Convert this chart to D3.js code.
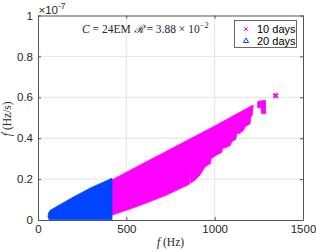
<!DOCTYPE html>
<html>
<head>
<meta charset="utf-8">
<script src="https://cdn.jsdelivr.net/npm/d3@7"></script>
<style>
  body { margin: 0; background: #fff; }
  svg { display: block; }
</style>
</head>
<body>
<svg id="chart" width="316" height="252"></svg>
<script>
// values (y in units of 1e-7 Hz/s)
const xTicks = [0, 500, 1000, 1500];
const yTicks = [0, 0.2, 0.4, 0.6, 0.8, 1];
const seriesNames = ["10 days", "20 days"];

// 10 days: outer edges of the marker cloud
const days10Upper = [[419, 0.196], [600, 0.279], [800, 0.369], [1000, 0.46], [1218, 0.562]];
const days10Lower = [[419, 0.024], [538, 0.059], [634, 0.09], [728, 0.122], [821, 0.16], [858, 0.176],
  [861, 0.27], [865, 0.18], [888, 0.196], [917, 0.22], [945, 0.26], [975, 0.275], [980, 0.3],
  [1011, 0.318], [1040, 0.33], [1045, 0.352], [1058, 0.352], [1090, 0.365], [1096, 0.383],
  [1120, 0.395], [1125, 0.424], [1143, 0.424], [1165, 0.44], [1171, 0.456], [1200, 0.47],
  [1205, 0.505], [1212, 0.51], [1218, 0.562]];
const days10ClusterUpper = [[1243, 0.578], [1262, 0.582], [1288, 0.585]];
const days10ClusterLower = [[1243, 0.55], [1262, 0.55], [1266, 0.52], [1288, 0.52]];
const days10Outlier = [[1345, 0.608]];

// 20 days
const days20Upper = [[57, 0.02], [60, 0.035], [70, 0.048], [200, 0.112], [300, 0.158], [419, 0.204]];
const days20Lower = [[57, 0.014], [63, 0.002], [419, 0.002]];

const magenta = "#ff00ff", blue = "#0044ff";
const axisCol = "#555", textCol = "#262626";

const svg = d3.select("#chart");
const mLeft = 38, mRight = 303, mTop = 15.5, mBottom = 220;

const x = d3.scaleLinear().domain([0, 1500]).range([mLeft, mRight]);
const y = d3.scaleLinear().domain([0, 1]).range([mBottom, mTop]);

// grid
svg.append("g").selectAll("line").data(xTicks.slice(1, -1)).join("line")
  .attr("x1", d => x(d)).attr("x2", d => x(d)).attr("y1", mTop).attr("y2", mBottom)
  .attr("stroke", "#e3e3e3").attr("stroke-width", 1);
svg.append("g").selectAll("line").data(yTicks.slice(1, -1)).join("line")
  .attr("y1", d => y(d)).attr("y2", d => y(d)).attr("x1", mLeft).attr("x2", mRight)
  .attr("stroke", "#e3e3e3").attr("stroke-width", 1);

// clouds
const line = d3.line().x(d => x(d[0])).y(d => y(d[1]));
function cloud(upper, lower, col) {
  svg.append("path")
    .attr("d", line(upper.concat(lower.slice().reverse())) + "Z")
    .attr("fill", col).attr("stroke", col).attr("stroke-width", 0.8)
    .attr("stroke-linejoin", "round");
}
cloud(days10Upper, days10Lower, magenta);
cloud(days10ClusterUpper, days10ClusterLower, magenta);
cloud(days20Upper, days20Lower, blue);

const cross = d3.symbol().type(d3.symbolTimes).size(14);
svg.append("g").selectAll("path").data(days10Outlier).join("path")
  .attr("transform", d => `translate(${x(d[0])},${y(d[1])})`)
  .attr("d", cross).attr("fill", "none").attr("stroke", magenta).attr("stroke-width", 2);

// axes (inward ticks, box)
const xAxis = d3.axisBottom(x).tickValues(xTicks).tickFormat(d3.format("d"))
  .tickSizeInner(-3).tickSizeOuter(0).tickPadding(5);
const yAxis = d3.axisLeft(y).tickValues(yTicks).tickFormat(d3.format("~g"))
  .tickSizeInner(-3).tickSizeOuter(0).tickPadding(5);
svg.append("g").attr("transform", `translate(0,${mBottom})`).call(xAxis);
svg.append("g").attr("transform", `translate(${mLeft},0)`).call(yAxis);
svg.append("g").attr("transform", `translate(0,${mTop})`)
  .call(d3.axisTop(x).tickValues(xTicks).tickSizeInner(-3).tickSizeOuter(0).tickFormat(""));
svg.append("g").attr("transform", `translate(${mRight},0)`)
  .call(d3.axisRight(y).tickValues(yTicks).tickSizeInner(-3).tickSizeOuter(0).tickFormat(""));
svg.selectAll(".domain, .tick line").attr("stroke", axisCol);
svg.selectAll(".tick text").attr("fill", textCol)
  .style("font-family", "'Liberation Sans', Arial, sans-serif").style("font-size", "11.5px");

// x10^-7
const mult = svg.append("text").attr("x", 38.5).attr("y", 13.5)
  .attr("fill", textCol).style("font-family", "'Liberation Sans', Arial, sans-serif").style("font-size", "11.5px");
mult.append("tspan").text("\u00d710");
mult.append("tspan").attr("dy", -5).style("font-size", "8.5px").text("-7");

// axis labels
const serif = "'Liberation Serif', 'DejaVu Serif', serif";
const xl = svg.append("text").attr("x", (mLeft + mRight) / 2).attr("y", 246)
  .attr("text-anchor", "middle").attr("fill", textCol).style("font-family", serif).style("font-size", "11.5px");
xl.append("tspan").style("font-style", "italic").text("f");
xl.append("tspan").text(" (Hz)");

const yl = svg.append("text")
  .attr("transform", `translate(11,${(mTop + mBottom) / 2 + 1}) rotate(-90)`)
  .attr("text-anchor", "middle").attr("fill", textCol).style("font-family", serif).style("font-size", "11.5px");
yl.append("tspan").style("font-style", "italic").text("\u1e1f");
yl.append("tspan").text(" (Hz/s)");

// annotation
const ann = svg.append("text").attr("x", 82).attr("y", 33)
  .attr("fill", textCol).style("font-family", serif).style("font-size", "11.5px");
ann.append("tspan").style("font-style", "italic").text("C");
ann.append("tspan").text(" = 24EM ");
ann.append("tspan").style("font-style", "italic").text("\u211b");
ann.append("tspan").text(" = 3.88 \u00d7 10");
ann.append("tspan").attr("dy", -5).style("font-size", "8.5px").text("\u22122");

// legend
const lg = svg.append("g");
lg.append("rect").attr("x", 234.5).attr("y", 20.5).attr("width", 62).attr("height", 27)
  .attr("fill", "#fff").attr("stroke", "#444").attr("stroke-width", 0.8);
const rows = lg.selectAll("g").data(seriesNames).join("g")
  .attr("transform", (d, i) => `translate(246,${29 + i * 12})`);
rows.filter((d, i) => i === 0).append("path")
  .attr("d", d3.symbol().type(d3.symbolTimes).size(10)).attr("fill", "none")
  .attr("stroke", magenta).attr("stroke-width", 1);
rows.filter((d, i) => i === 1).append("path")
  .attr("d", d3.symbol().type(d3.symbolTriangle).size(12)).attr("fill", "none")
  .attr("stroke", blue).attr("stroke-width", 1);
rows.append("text").attr("x", 11).attr("dy", "0.36em").text(d => d)
  .attr("fill", "#000").style("font-family", "'Liberation Sans', Arial, sans-serif").style("font-size", "11px");
</script>
</body>
</html>
